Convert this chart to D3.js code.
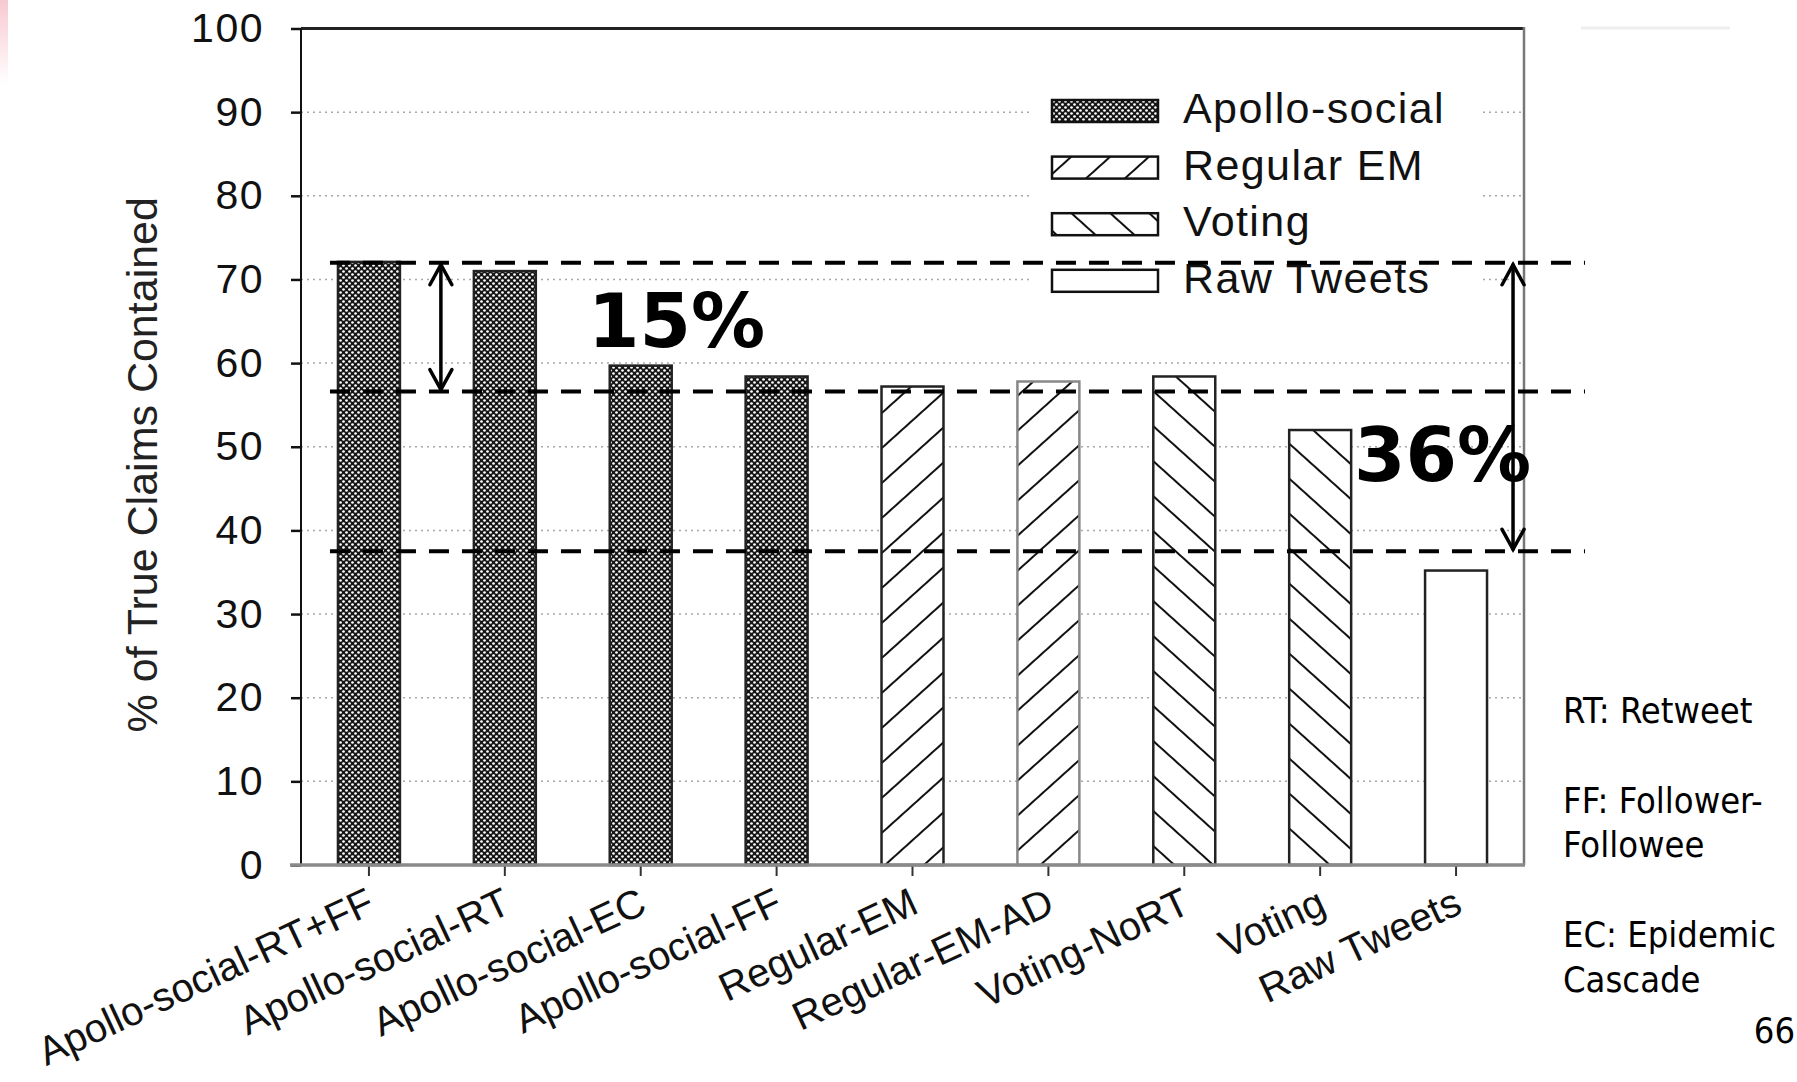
<!DOCTYPE html>
<html>
<head>
<meta charset="utf-8">
<script src="https://cdn.jsdelivr.net/npm/d3@7/dist/d3.min.js"></script>
<style>
  html, body { margin: 0; padding: 0; background: #fff; }
  svg { display: block; }
</style>
</head>
<body>
<script>
// ---------- data ----------
const categories = ["Apollo-social-RT+FF", "Apollo-social-RT", "Apollo-social-EC", "Apollo-social-FF",
                    "Regular-EM", "Regular-EM-AD", "Voting-NoRT", "Voting", "Raw Tweets"];
const values = [72.1, 71.0, 59.7, 58.4, 57.2, 57.8, 58.4, 52.0, 35.2];
const groups = ["Apollo-social", "Apollo-social", "Apollo-social", "Apollo-social",
                "Regular EM", "Regular EM", "Voting", "Voting", "Raw Tweets"];
const legendLabels = ["Apollo-social", "Regular EM", "Voting", "Raw Tweets"];
const yTicks = [0, 10, 20, 30, 40, 50, 60, 70, 80, 90, 100];
const gridTicks = [10, 20, 30, 40, 50, 60, 70, 80, 90];
const yTitle = "% of True Claims Contained";
const refLines = [72, 56.6, 37.5];
const arrowSpans = [[72, 56.6], [72, 37.5]];
const arrowLabels = ["15%", "36%"];
const sideNotes = ["RT: Retweet", "FF: Follower-", "Followee", "EC: Epidemic", "Cascade"];
const pageNumber = "66";

// ---------- setup ----------
const W = 1797, H = 1082;
const svg = d3.select("body").append("svg").attr("width", W).attr("height", H);

const x = d3.scaleBand().domain(categories).range([301, 1524]).paddingInner(0.544).paddingOuter(0.272);
const y = d3.scaleLinear().domain([0, 100]).range([865, 28.5]);

const defs = svg.append("defs");
// Apollo-social: black with white dots
const pA = defs.append("pattern").attr("id", "pat-Apollo-social").attr("patternUnits", "userSpaceOnUse")
  .attr("width", 6).attr("height", 6);
pA.append("rect").attr("width", 6).attr("height", 6).attr("fill", "#161616");
pA.append("circle").attr("cx", 1.5).attr("cy", 1.5).attr("r", 1.35).attr("fill", "#fff");
pA.append("circle").attr("cx", 4.5).attr("cy", 4.5).attr("r", 1.35).attr("fill", "#fff");
function hatch(id, angle) {
  const p = defs.append("pattern").attr("id", id).attr("patternUnits", "userSpaceOnUse")
    .attr("width", 26).attr("height", 10).attr("patternTransform", `rotate(${angle})`);
  p.append("rect").attr("width", 26).attr("height", 10).attr("fill", "#fff");
  p.append("line").attr("x1", 13).attr("x2", 13).attr("y1", -1).attr("y2", 11)
    .attr("stroke", "#111").attr("stroke-width", 2);
}
hatch("pat-Regular_EM", 48);
hatch("pat-Voting", -48);
const fillFor = g => g === "Raw Tweets" ? "#fff" : `url(#pat-${g.replace(" ", "_")})`;
const strokeFor = (g, i) => (i === 5 ? "#888" : "#222");

// pink corner + faint line (slide artifacts)
const grad = defs.append("linearGradient").attr("id", "pinkfade").attr("x1", 0).attr("x2", 0).attr("y1", 0).attr("y2", 1);
grad.append("stop").attr("offset", "0%").attr("stop-color", "#f7c9d2");
grad.append("stop").attr("offset", "100%").attr("stop-color", "#fff");
svg.append("rect").attr("x", 0).attr("y", 0).attr("width", 8).attr("height", 85).attr("fill", "url(#pinkfade)");
svg.append("line").attr("x1", 1581).attr("x2", 1730).attr("y1", 28).attr("y2", 28)
  .attr("stroke", "#eeeeee").attr("stroke-width", 3);

// ---------- grid ----------
svg.append("g").selectAll("line").data(gridTicks).join("line")
  .attr("x1", 301).attr("x2", 1524).attr("y1", d => y(d)).attr("y2", d => y(d))
  .attr("stroke", "#a8a8a8").attr("stroke-width", 1.5).attr("stroke-dasharray", "2,4");

// ---------- bars ----------
svg.append("g").selectAll("rect").data(categories).join("rect")
  .attr("x", d => x(d)).attr("width", x.bandwidth())
  .attr("y", (d, i) => y(values[i])).attr("height", (d, i) => y(0) - y(values[i]))
  .attr("fill", (d, i) => fillFor(groups[i]))
  .attr("stroke", (d, i) => strokeFor(groups[i], i)).attr("stroke-width", 2.5);

// ---------- legend ----------
svg.append("rect").attr("x", 1030).attr("y", 80).attr("width", 450).attr("height", 225).attr("fill", "#fff");
const lg = svg.append("g").selectAll("g").data(legendLabels).join("g")
  .attr("transform", (d, i) => `translate(1052, ${100 + i * 56.6})`);
lg.append("rect").attr("width", 106).attr("height", 22)
  .attr("fill", d => fillFor(d)).attr("stroke", "#111").attr("stroke-width", 2.5);
lg.append("text").attr("x", 131).attr("y", 23)
  .attr("font-family", "Liberation Sans, Arial, sans-serif").attr("font-size", 43)
  .attr("letter-spacing", 1.4).attr("fill", "#111").text(d => d);

// ---------- axes ----------
const yAxis = svg.append("g").attr("transform", "translate(301,0)")
  .call(d3.axisLeft(y).tickValues(yTicks).tickSize(10).tickPadding(27));
yAxis.select(".domain").remove();
yAxis.selectAll(".tick line").attr("stroke", "#111").attr("stroke-width", 2.5);
yAxis.selectAll(".tick text").attr("font-family", "Liberation Sans, Arial, sans-serif")
  .attr("font-size", 41).attr("letter-spacing", 1.5).attr("fill", "#111");

const xAxis = svg.append("g").attr("transform", "translate(0,865)")
  .call(d3.axisBottom(x).tickSize(11));
xAxis.select(".domain").remove();
xAxis.selectAll(".tick line").attr("stroke", "#333").attr("stroke-width", 2);
xAxis.selectAll(".tick text")
  .attr("font-family", "Liberation Sans, Arial, sans-serif").attr("font-size", 40).attr("fill", "#111")
  .attr("x", 0).attr("y", 0).attr("dy", 0).attr("text-anchor", "end")
  .attr("transform", "translate(8,47) rotate(-25)");

// frame
svg.append("line").attr("x1", 301).attr("x2", 1524).attr("y1", y(100)).attr("y2", y(100))
  .attr("stroke", "#222").attr("stroke-width", 3);
svg.append("line").attr("x1", 1524).attr("x2", 1524).attr("y1", y(100) - 1.5).attr("y2", y(0))
  .attr("stroke", "#777").attr("stroke-width", 2.5);
svg.append("line").attr("x1", 301).attr("x2", 301).attr("y1", y(100)).attr("y2", y(0))
  .attr("stroke", "#111").attr("stroke-width", 2);
svg.append("line").attr("x1", 290).attr("x2", 1525).attr("y1", y(0)).attr("y2", y(0))
  .attr("stroke", "#8a8a8a").attr("stroke-width", 3.5);

// y title
svg.append("text").attr("transform", `translate(157, ${(y(0) + y(100)) / 2 + 18}) rotate(-90)`)
  .attr("text-anchor", "middle").attr("font-family", "Liberation Sans, Arial, sans-serif")
  .attr("font-size", 43).attr("fill", "#222").text(yTitle);

// ---------- annotations ----------
svg.append("g").selectAll("line").data(refLines).join("line")
  .attr("x1", x(categories[0]) - 8).attr("x2", 1585).attr("y1", d => y(d)).attr("y2", d => y(d))
  .attr("stroke", "#000").attr("stroke-width", 4).attr("stroke-dasharray", "20,13");

const labelFont = "DejaVu Sans, Verdana, sans-serif";
svg.append("text").attr("x", 588).attr("y", 347).attr("font-family", labelFont).attr("font-weight", "bold")
  .attr("font-size", 74).attr("fill", "#000").text(arrowLabels[0]);
svg.append("text").attr("x", 1354).attr("y", 481).attr("font-family", labelFont).attr("font-weight", "bold")
  .attr("font-size", 74).attr("fill", "#000").text(arrowLabels[1]);

const arrowX = [(x(categories[0]) + x(categories[1]) + x.bandwidth()) / 2 + 4,
                x(categories[8]) + x.bandwidth() + 26];
function arrow(ax, v1, v2) {
  const y1 = y(v1) + 2, y2 = y(v2) - 2;
  const g = svg.append("g").attr("stroke", "#000").attr("stroke-width", 3.5).attr("fill", "none")
    .attr("stroke-linecap", "round");
  g.append("line").attr("x1", ax).attr("x2", ax).attr("y1", y1).attr("y2", y2);
  g.append("path").attr("d", `M${ax - 11},${y1 + 20} L${ax},${y1} L${ax + 11},${y1 + 20}`);
  g.append("path").attr("d", `M${ax - 11},${y2 - 20} L${ax},${y2} L${ax + 11},${y2 - 20}`);
}
arrowSpans.forEach((s, i) => arrow(arrowX[i], s[0], s[1]));

// ---------- side notes ----------
const noteY = [723, 813, 857, 947, 992];
svg.append("g").selectAll("text").data(sideNotes).join("text")
  .attr("x", 1563).attr("y", (d, i) => noteY[i])
  .attr("font-family", "DejaVu Sans Condensed, DejaVu Sans, sans-serif").attr("font-stretch", "condensed")
  .attr("font-size", 36).attr("fill", "#000").text(d => d);
svg.append("text").attr("x", 1795).attr("y", 1043).attr("text-anchor", "end")
  .attr("font-family", "DejaVu Sans Condensed, DejaVu Sans, sans-serif").attr("font-stretch", "condensed")
  .attr("font-size", 36).attr("fill", "#000").text(pageNumber);
</script>
</body>
</html>
